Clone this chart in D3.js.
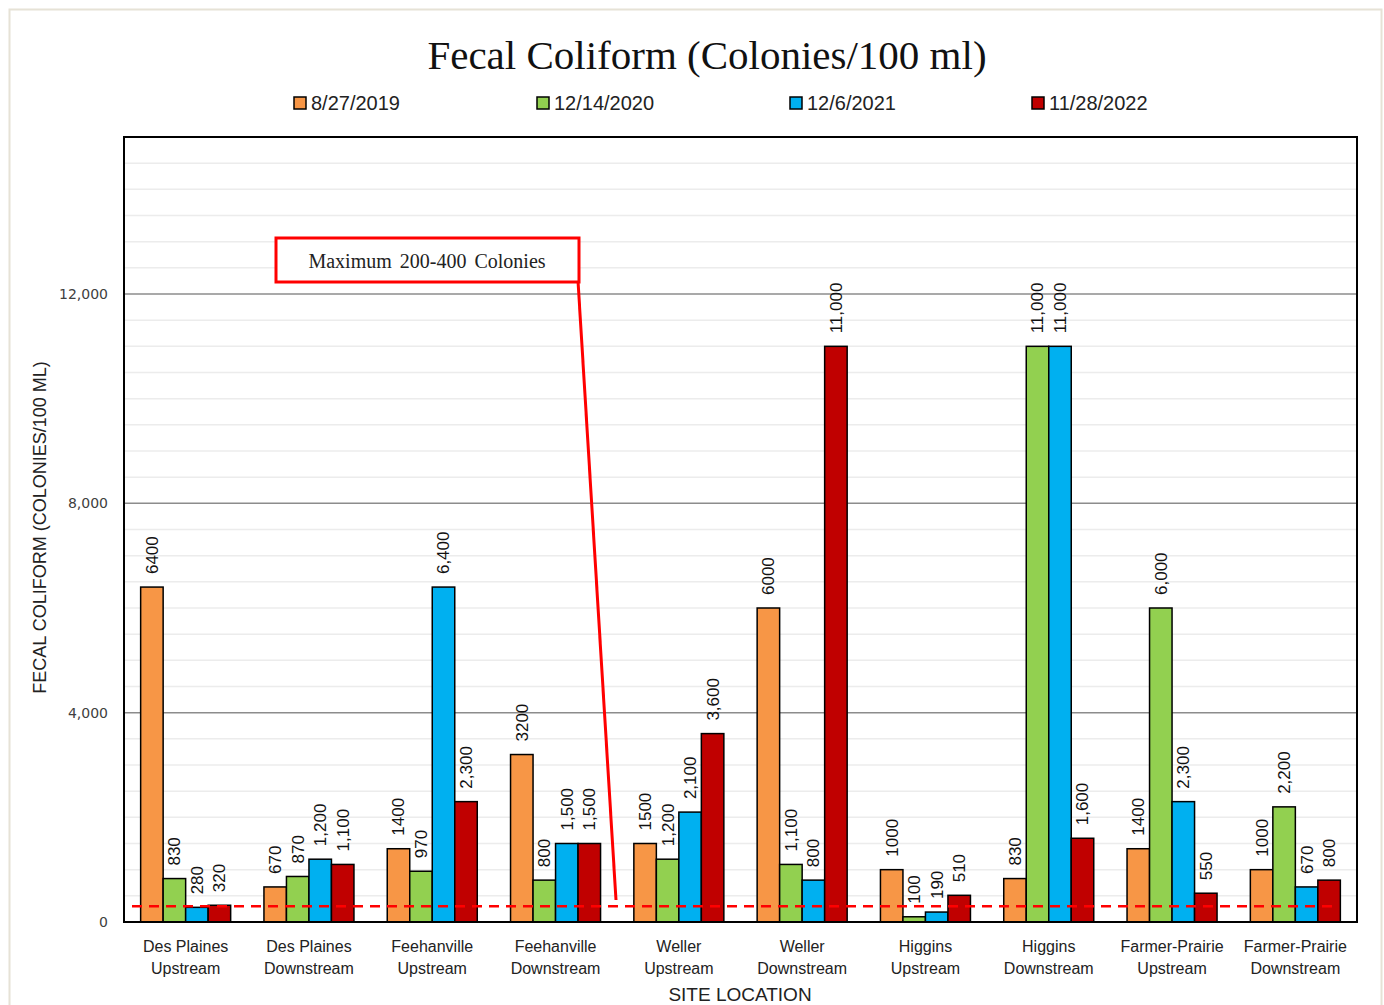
<!DOCTYPE html>
<html>
<head>
  <meta charset="utf-8">
  <title>Fecal Coliform</title>
  <style>
  body { margin: 0; background: #fff; }
  .tick-label { font-family: "DejaVu Sans", sans-serif; font-size: 14px; fill: #404040; }
  .cat-label { font-family: "Liberation Sans Narrow", "Liberation Sans", sans-serif; font-size: 16px; fill: #222; text-anchor: middle; }
  .bar-label { font-family: "Liberation Sans Narrow", "Liberation Sans", sans-serif; font-size: 17px; fill: #111; }
  .legend-font { font-family: "Liberation Sans Narrow", "Liberation Sans", sans-serif; font-size: 20px; fill: #222; }
  </style>
</head>
<body>
  <div id="chart"></div>
  <script src="https://cdn.jsdelivr.net/npm/d3@7"></script>
  <script>
  // data
  var sites = [
    ["Des Plaines", "Upstream"], ["Des Plaines", "Downstream"],
    ["Feehanville", "Upstream"], ["Feehanville", "Downstream"],
    ["Weller", "Upstream"], ["Weller", "Downstream"],
    ["Higgins", "Upstream"], ["Higgins", "Downstream"],
    ["Farmer-Prairie", "Upstream"], ["Farmer-Prairie", "Downstream"]
  ];
  var dates = ["8/27/2019", "12/14/2020", "12/6/2021", "11/28/2022"];
  var s2019 = [6400, 670, 1400, 3200, 1500, 6000, 1000, 830, 1400, 1000];
  var s2020 = [830, 870, 970, 800, 1200, 1100, 100, 11000, 6000, 2200];
  var s2021 = [280, 1200, 6400, 1500, 2100, 800, 190, 11000, 2300, 670];
  var s2022 = [320, 1100, 2300, 1500, 3600, 11000, 510, 1600, 550, 800];
  var yTicks = [0, 4000, 8000, 12000];
  var limitValue = 300;
  var noteText = "Maximum 200-400 Colonies";

  var series = [s2019, s2020, s2021, s2022];
  var colors = ["#F79646", "#92D050", "#00B0F0", "#C00000"];
  // first series is printed without thousands separator in the original
  var formats = [d3.format("d"), d3.format(","), d3.format(","), d3.format(",")];

  var W = 1384, H = 1005;
  var pLeft = 124, pRight = 1357, pTop = 137, pBottom = 922;

  var svg = d3.select("#chart").append("svg")
    .attr("width", W)
    .attr("height", H);

  // outer frame
  svg.append("rect")
    .attr("x", 9.5).attr("y", 9.5)
    .attr("width", 1372).attr("height", 1000)
    .attr("fill", "#fff")
    .attr("stroke", "#e6e2d6")
    .attr("stroke-width", 2);

  var x = d3.scaleBand()
    .domain(d3.range(sites.length))
    .range([pLeft, pRight])
    .paddingInner(0.27)
    .paddingOuter(0.135);

  var xs = d3.scaleBand()
    .domain(d3.range(dates.length))
    .range([0, x.bandwidth()]);

  var y = d3.scaleLinear()
    .domain([0, 15000])
    .range([pBottom, pTop]);

  // minor gridlines
  svg.append("g")
    .selectAll("line")
    .data(d3.range(500, 15000, 500).filter(function(v) { return v % 4000 !== 0; }))
    .enter().append("line")
    .attr("x1", pLeft).attr("x2", pRight)
    .attr("y1", function(d) { return y(d); })
    .attr("y2", function(d) { return y(d); })
    .attr("stroke", "#ececec")
    .attr("stroke-width", 1.5);

  // major gridlines
  svg.append("g")
    .selectAll("line")
    .data(yTicks.slice(1))
    .enter().append("line")
    .attr("x1", pLeft).attr("x2", pRight)
    .attr("y1", function(d) { return y(d); })
    .attr("y2", function(d) { return y(d); })
    .attr("stroke", "#8c8c8c")
    .attr("stroke-width", 1.5);

  // y axis ticks
  svg.append("g")
    .selectAll("text")
    .data(yTicks)
    .enter().append("text")
    .attr("class", "tick-label")
    .attr("x", pLeft - 16)
    .attr("y", function(d) { return y(d); })
    .attr("dy", "0.35em")
    .attr("text-anchor", "end")
    .text(function(d) { return d3.format(",")(d); });

  // bars
  var groups = svg.append("g")
    .selectAll("g")
    .data(sites)
    .enter().append("g")
    .attr("transform", function(d, i) { return "translate(" + x(i) + ",0)"; });

  var cells = groups.selectAll("g")
    .data(function(d, i) {
      return series.map(function(s, k) { return {k: k, value: s[i]}; });
    })
    .enter().append("g");

  cells.append("rect")
    .attr("x", function(d) { return xs(d.k); })
    .attr("y", function(d) { return y(d.value); })
    .attr("width", xs.bandwidth())
    .attr("height", function(d) { return pBottom - y(d.value); })
    .attr("fill", function(d) { return colors[d.k]; })
    .attr("stroke", "#000")
    .attr("stroke-width", 1.5);

  cells.append("text")
    .attr("class", "bar-label")
    .attr("transform", function(d) {
      return "translate(" + (xs(d.k) + xs.bandwidth() / 2) + "," + (y(d.value) - 13) + ") rotate(-90)";
    })
    .attr("dy", "0.35em")
    .attr("text-anchor", "start")
    .text(function(d) { return formats[d.k](d.value); });

  // category labels
  var cat = svg.append("g")
    .selectAll("text")
    .data(sites)
    .enter().append("text")
    .attr("class", "cat-label")
    .attr("x", function(d, i) { return x(i) + x.bandwidth() / 2; })
    .attr("y", 952);
  cat.append("tspan").text(function(d) { return d[0]; });
  cat.append("tspan")
    .attr("x", function(d, i) { return x(i) + x.bandwidth() / 2; })
    .attr("dy", 22)
    .text(function(d) { return d[1]; });

  // limit line
  svg.append("line")
    .attr("x1", pLeft + 8).attr("x2", pRight - 20)
    .attr("y1", y(limitValue)).attr("y2", y(limitValue))
    .attr("stroke", "#FF0000")
    .attr("stroke-width", 2.5)
    .attr("stroke-dasharray", "10,7");

  // plot border
  svg.append("rect")
    .attr("x", pLeft).attr("y", pTop)
    .attr("width", pRight - pLeft).attr("height", pBottom - pTop)
    .attr("fill", "none")
    .attr("stroke", "#000")
    .attr("stroke-width", 2);

  // callout
  svg.append("line")
    .attr("x1", 578).attr("y1", 281)
    .attr("x2", 616).attr("y2", 900)
    .attr("stroke", "#FF0000")
    .attr("stroke-width", 3);
  svg.append("rect")
    .attr("x", 276).attr("y", 238)
    .attr("width", 303).attr("height", 44)
    .attr("fill", "#fff")
    .attr("stroke", "#FF0000")
    .attr("stroke-width", 3);
  svg.append("text")
    .attr("x", 427).attr("y", 261)
    .attr("dy", "0.35em")
    .attr("text-anchor", "middle")
    .style("font-family", "Liberation Serif, serif")
    .style("font-size", "20px")
    .style("word-spacing", "3px")
    .style("fill", "#222")
    .text(noteText);

  // title
  svg.append("text")
    .attr("x", 707).attr("y", 69)
    .attr("text-anchor", "middle")
    .style("font-family", "Liberation Serif, serif")
    .style("font-size", "41px")
    .style("fill", "#111")
    .text("Fecal Coliform (Colonies/100 ml)");

  // axis titles
  svg.append("text")
    .attr("transform", "translate(46," + ((pTop + pBottom) / 2 - 2) + ") rotate(-90)")
    .attr("text-anchor", "middle")
    .style("font-family", "Liberation Sans Narrow, Liberation Sans, sans-serif")
    .style("font-size", "18px")
    .style("fill", "#222")
    .text("FECAL COLIFORM (COLONIES/100 ML)");

  svg.append("text")
    .attr("x", 740).attr("y", 1001)
    .attr("text-anchor", "middle")
    .style("font-family", "Liberation Sans Narrow, Liberation Sans, sans-serif")
    .style("font-size", "19px")
    .style("fill", "#222")
    .text("SITE LOCATION");

  // legend
  var legendX = [294, 537, 790, 1032];
  var legend = svg.append("g")
    .attr("class", "legend-font")
    .selectAll("g")
    .data(dates)
    .enter().append("g")
    .attr("transform", function(d, i) { return "translate(" + legendX[i] + ",103)"; });

  legend.append("rect")
    .attr("x", 0).attr("y", -6)
    .attr("width", 12).attr("height", 12)
    .attr("fill", function(d, i) { return colors[i]; })
    .attr("stroke", "#000")
    .attr("stroke-width", 1.5);

  legend.append("text")
    .attr("x", 17)
    .attr("dy", "0.35em")
    .text(function(d) { return d; });
  </script>
</body>
</html>
